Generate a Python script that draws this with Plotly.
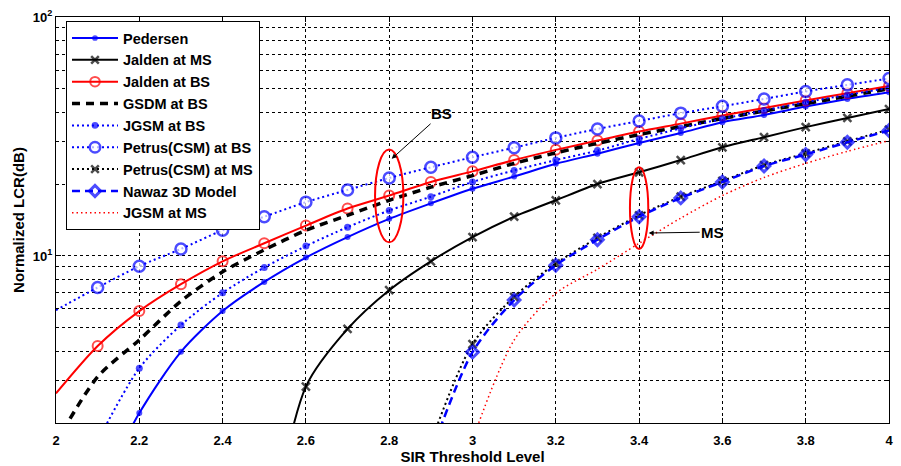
import plotly.graph_objects as go

# ---------------- data ----------------
sir = [2.0, 2.1, 2.2, 2.3, 2.4, 2.5, 2.6, 2.7, 2.8, 2.9, 3.0,
       3.1, 3.2, 3.3, 3.4, 3.5, 3.6, 3.7, 3.8, 3.9, 4.0]

pedersen = [None, 1.0, 2.20, 3.97, 5.88, 7.79, 9.85, 12.0, 14.3, 16.6, 19.1,
            21.5, 24.3, 26.8, 29.7, 32.7, 36.3, 38.9, 42.2, 45.4, 48.4]
jalden_ms = [None, None, None, None, None, 0.5, 2.84, 4.95, 7.19, 9.5, 12.0,
             14.6, 17.1, 20.0, 22.4, 25.2, 28.5, 31.4, 34.6, 37.8, 41.2]
jalden_bs = [2.66, 4.20, 5.88, 7.62, 9.5, 11.3, 13.4, 15.8, 17.9, 20.4, 22.6,
             25.2, 27.8, 30.4, 33.2, 35.8, 38.7, 41.6, 44.7, 48.0, 51.4]
gsdm_bs = [1.65, 3.12, 4.45, 6.47, 8.58, 10.6, 12.8, 14.8, 17.1, 19.4, 21.7,
           24.4, 27.0, 29.6, 32.2, 34.8, 37.6, 40.4, 43.4, 46.6, 50.1]
jgsm_bs = [None, 1.68, 3.39, 5.14, 7.01, 8.95, 11.0, 13.2, 15.5, 17.7, 20.4,
           22.8, 25.2, 27.6, 30.9, 34.2, 37.5, 40.6, 44.0, 47.2, 50.5]
petrus_bs = [5.93, 7.38, 9.06, 10.7, 12.8, 14.6, 16.8, 18.9, 21.2, 23.5, 25.9,
             28.4, 31.2, 34.0, 36.7, 39.6, 42.3, 45.4, 48.8, 52.0, 55.3]
petrus_ms = [None, None, None, None, None, None, None, None, None, 1.66, 4.28,
             6.75, 9.3, 11.9, 14.8, 17.7, 20.6, 24.0, 26.9, 30.2, 33.8]
nawaz_3d = [None, None, None, None, None, None, None, None, None, 1.49, 3.96,
            6.54, 9.15, 11.7, 14.6, 17.5, 20.4, 23.8, 26.6, 29.9, 33.5]
jgsm_ms = [None, None, None, None, None, None, None, None, None, None, 1.7,
           4.45, 6.98, 8.80, 11.3, 14.4, 17.9, 21.3, 24.4, 27.4, 30.4]

x_ticks = [2, 2.2, 2.4, 2.6, 2.8, 3, 3.2, 3.4, 3.6, 3.8, 4]
y_major = [10, 100]
y_major_text = ["10<sup>1</sup>", "10<sup>2</sup>"]
y_minor = [2, 3, 4, 5, 6, 7, 8, 9, 20, 30, 40, 50, 60, 70, 80, 90]

BLUE = "#0000FF"
RED = "#FF0000"
BLACK = "#000000"
WHITE = "#FFFFFF"
FONT = "Liberation Sans, Arial, sans-serif"

# marker sizes: the first point (x=2.0) is drawn without a marker
def msize(s):
    return [0] + [s] * (len(sir) - 1)

series = [
    dict(name="Pedersen", y=pedersen, color=BLUE, width=2, dash="solid",
         symbol="circle", size=6, mlw=0, fill=BLUE),
    dict(name="Jalden at MS", y=jalden_ms, color=BLACK, width=2, dash="solid",
         symbol="x-thin", size=8, mlw=2.5, fill=BLACK),
    dict(name="Jalden at BS", y=jalden_bs, color=RED, width=2, dash="solid",
         symbol="circle-open", size=10, mlw=2, fill=RED),
    dict(name="GSDM at BS", y=gsdm_bs, color=BLACK, width=3.5, dash="8px,6px",
         symbol=None, size=0, mlw=0, fill=None),
    dict(name="JGSM at BS", y=jgsm_bs, color=BLUE, width=2, dash="2px,3px",
         symbol="circle", size=7, mlw=0, fill=BLUE),
    dict(name="Petrus(CSM) at BS", y=petrus_bs, color=BLUE, width=2, dash="2px,3px",
         symbol="circle", size=11, mlw=2.5, fill=WHITE),
    dict(name="Petrus(CSM) at MS", y=petrus_ms, color=BLACK, width=2, dash="2px,3px",
         symbol="x-thin", size=8, mlw=2.5, fill=BLACK),
    dict(name="Nawaz 3D Model", y=nawaz_3d, color=BLUE, width=2.5, dash="8px,5px",
         symbol="diamond-open", size=9, mlw=3, fill=BLUE),
    dict(name="JGSM at MS", y=jgsm_ms, color=RED, width=1.5, dash="1.5px,3px",
         symbol=None, size=0, mlw=0, fill=None),
]

fig = go.Figure()
for i, s in enumerate(series):
    mode = "lines+markers" if s["symbol"] else "lines"
    kw = dict(
        x=sir, y=s["y"], name=s["name"], mode=mode, legendgroup=f"g{i}",
        line=dict(color=s["color"], width=s["width"], dash=s["dash"],
                  shape="spline", smoothing=0.8),
        connectgaps=False,
    )
    if s["symbol"]:
        kw["marker"] = dict(symbol=s["symbol"], size=msize(s["size"]), color=s["fill"],
                            line=dict(color=s["color"], width=s["mlw"]))
    fig.add_trace(go.Scatter(**kw))

fig.update_xaxes(
    range=[2, 4], tickvals=x_ticks, ticks="inside", ticklen=5, tickcolor=BLACK,
    showline=True, linecolor=BLACK, linewidth=1, mirror="ticks",
    showgrid=True, gridcolor=BLACK, griddash="dot", gridwidth=1,
    zeroline=False, ticklabelstandoff=5,
    tickfont=dict(family=FONT, size=13, color=BLACK, weight="bold"),
    title=dict(text="SIR Threshold Level", standoff=0,
               font=dict(family=FONT, size=15, color=BLACK, weight="bold")),
)
fig.update_yaxes(
    type="log", range=[0.30103, 2], tickvals=y_major, ticktext=y_major_text,
    ticks="inside", ticklen=5, tickcolor=BLACK,
    showline=True, linecolor=BLACK, linewidth=1, mirror="ticks",
    showgrid=True, gridcolor=BLACK, griddash="dot", gridwidth=1,
    zeroline=False,
    minor=dict(tickvals=y_minor, ticks="inside", ticklen=3, tickcolor=BLACK,
               showgrid=True, gridcolor=BLACK, griddash="dot", gridwidth=1),
    tickfont=dict(family=FONT, size=13, color=BLACK, weight="bold"),
    title=dict(text="Normalized LCR(dB)", standoff=4,
               font=dict(family=FONT, size=15, color=BLACK, weight="bold")),
)

# highlighting ellipses
fig.add_shape(type="circle", xref="x", yref="y", x0=2.766, x1=2.834, y0=11.4, y1=27.9,
              line=dict(color=RED, width=2))
fig.add_shape(type="circle", xref="x", yref="y", x0=3.378, x1=3.422, y0=10.7, y1=23.5,
              line=dict(color=RED, width=2))

# arrows with labels (annotation y on log axis given as log10)
fig.add_annotation(x=2.806, y=1.4067, xref="x", yref="y", text="BS", showarrow=True,
                   ax=50, ay=-45, arrowhead=2, arrowsize=1, arrowwidth=1, arrowcolor=BLACK,
                   font=dict(family=FONT, size=15, color=BLACK, weight="bold"))
fig.add_annotation(x=3.423, y=1.096, xref="x", yref="y", text="MS", showarrow=True,
                   ax=64, ay=-1, arrowhead=2, arrowsize=1, arrowwidth=1, arrowcolor=BLACK,
                   font=dict(family=FONT, size=15, color=BLACK, weight="bold"))

fig.update_layout(
    width=901, height=466,
    margin=dict(l=56, r=8, t=15, b=43),
    paper_bgcolor="white", plot_bgcolor="white",
    font=dict(family=FONT, color=BLACK),
    legend=dict(x=0.012, y=0.99, xanchor="left", yanchor="top",
                bgcolor="white", bordercolor=BLACK, borderwidth=1,
                tracegroupgap=0, itemwidth=46,
                font=dict(family=FONT, size=14.5, color=BLACK, weight="bold")),
    showlegend=True,
)

fig.write_html("out.html")
